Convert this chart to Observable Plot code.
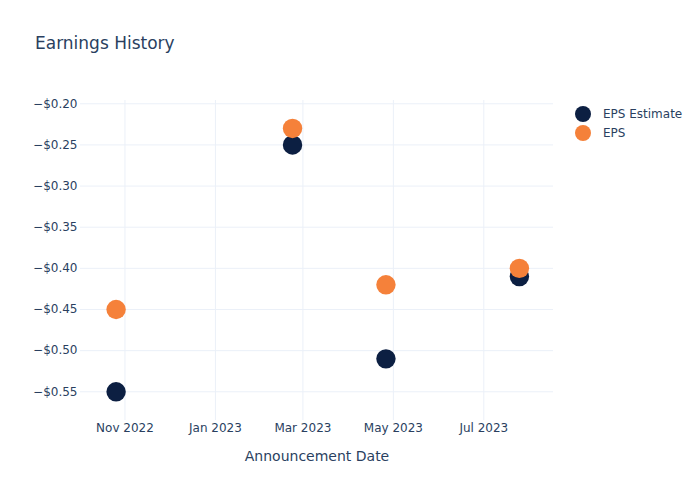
<!DOCTYPE html>
<html>
<head>
<meta charset="utf-8">
<script src="https://cdn.jsdelivr.net/npm/d3@7"></script>
<script src="https://cdn.jsdelivr.net/npm/@observablehq/plot@0.6"></script>
<style>
  html, body { margin: 0; padding: 0; background: #fff; }
  #wrap { position: relative; width: 700px; height: 500px; font-family: "DejaVu Sans", sans-serif; color: #2a3f5f; }
  #title { position: absolute; left: 35px; top: 33px; font-size: 17px; line-height: 20px; white-space: nowrap; }
  .leg { position: absolute; left: 575px; font-size: 12px; line-height: 16px; white-space: nowrap; display: flex; align-items: center; }
  .leg span.sw { display: inline-block; width: 16px; height: 16px; border-radius: 50%; margin-right: 12px; }
  #chart svg { display: block; }
</style>
</head>
<body>
<div id="wrap">
  <div id="chart"></div>
  <div id="title">Earnings History</div>
  <div class="leg" style="top:106px"><span class="sw" style="background:#0c1f42"></span>EPS Estimate</div>
  <div class="leg" style="top:125px"><span class="sw" style="background:#f5813a"></span>EPS</div>
</div>
<script>
const dates = ["2022-10-26", "2023-02-22", "2023-04-26", "2023-07-25"];
const epsEstimate = [-0.55, -0.25, -0.51, -0.41];
const eps = [-0.45, -0.23, -0.42, -0.40];
const xTicks = ["2022-11-01", "2023-01-01", "2023-03-01", "2023-05-01", "2023-07-01"];
const yTicks = [-0.20, -0.25, -0.30, -0.35, -0.40, -0.45, -0.50, -0.55];
const seriesNames = ["EPS Estimate", "EPS"];
const colors = ["#0c1f42", "#f5813a"];

const parse = d3.utcParse("%Y-%m-%d");
const rows = [];
dates.forEach((d, i) => rows.push({date: parse(d), value: epsEstimate[i], series: seriesNames[0]}));
dates.forEach((d, i) => rows.push({date: parse(d), value: eps[i], series: seriesNames[1]}));

const fmtY = d3.format("$.2f");
const fmtX = d3.utcFormat("%b %Y");

const chart = Plot.plot({
  width: 700,
  height: 500,
  marginLeft: 80,
  marginRight: 147,
  marginTop: 100,
  marginBottom: 80,
  style: {fontFamily: "DejaVu Sans, sans-serif", fontSize: "12px", color: "#2a3f5f", background: "#fff"},
  x: {type: "utc", domain: [parse("2022-10-02"), parse("2023-08-17")]},
  y: {domain: [-0.5849, -0.196]},
  color: {domain: seriesNames, range: colors},
  marks: [
    Plot.gridX(xTicks.map(parse), {stroke: "#ebf0f8", strokeOpacity: 1, strokeWidth: 1}),
    Plot.gridY(yTicks, {stroke: "#ebf0f8", strokeOpacity: 1, strokeWidth: 1}),
    Plot.axisX(xTicks.map(parse), {tickSize: 0, tickPadding: 3, tickFormat: fmtX, fontSize: 12, fill: "#2a3f5f",
      label: "Announcement Date", labelAnchor: "center", labelArrow: "none", labelOffset: 40}),
    Plot.axisY(yTicks, {tickSize: 0, tickPadding: 3, tickFormat: fmtY, fontSize: 12, fill: "#2a3f5f", label: null}),
    Plot.dot(rows, {x: "date", y: "value", fill: "series", r: 9.7, stroke: null})
  ]
});
// style axis label size
chart.querySelectorAll("g[aria-label='x-axis label'] text").forEach(t => { t.setAttribute("font-size", "14"); t.style.fontSize = "14px"; });
document.getElementById("chart").appendChild(chart);
</script>
</body>
</html>
